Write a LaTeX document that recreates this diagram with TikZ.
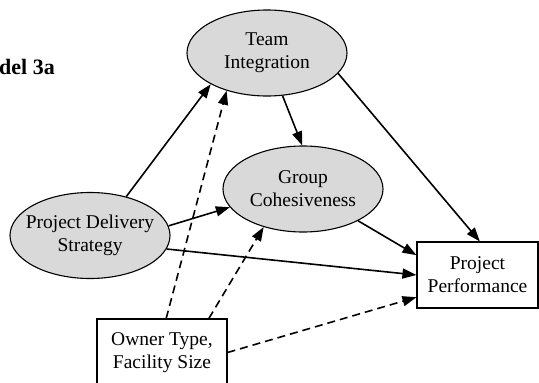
\documentclass[tikz,border=0pt]{standalone}
\usepackage{fontspec}
\setmainfont{Liberation Serif}
\usetikzlibrary{shapes.geometric,arrows.meta}
\definecolor{ovalfill}{RGB}{217,217,217}
\begin{document}
\begin{tikzpicture}[x=1pt,y=-1pt,
  oval/.style={ellipse, draw, line width=1.1pt, fill=ovalfill,
    minimum width=160pt, minimum height=86pt, inner sep=0pt},
  boxnode/.style={rectangle, draw, line width=1.1pt, fill=white, inner sep=0pt},
  lbl/.style={align=center, font=\fontsize{19.5}{23}\selectfont, inner sep=0pt},
  link/.style={line width=1.6pt, -{Triangle[length=14pt,width=10pt]}},
  dlink/.style={link, dash pattern=on 8pt off 5pt}]
\useasboundingbox (0,0) rectangle (539,383);

% title, partly cut off at the left edge
\node[font=\bfseries\fontsize{22}{26}\selectfont, anchor=base east, inner sep=0pt]
  (title) at (55,74) {Model 3a};

% constructs
\node[oval] (ti)  at (267,53)    {};
\node[lbl]  (tit) at (ti)        {Team\\Integration};
\node[oval] (gc)  at (303,189)   {};
\node[lbl]  (gct) at (gc)        {Group\\Cohesiveness};
\node[oval] (pds) at (90,235.5)  {};
\node[lbl]  (pdst) at (pds)      {Project Delivery\\Strategy};

\node[boxnode, minimum width=121pt, minimum height=66pt] (pp) at (477.5,275) {};
\node[lbl] (ppt) at (pp) {Project\\Performance};
\node[boxnode, minimum width=130pt, minimum height=67pt] (ot) at (162,352.5) {};
\node[lbl] (ott) at (ot) {Owner Type,\\Facility Size};

% direct paths
\draw[link] (pds.47)  -- (ti.209);
\draw[link] (pds.7.5) -- (gc.194);
\draw[link] (pds.350) -- (pp.west);
\draw[link] (ti.290)  -- (gc.91);
\draw[link] (ti.344)  -- (pp.86);
\draw[link] (gc.330)  -- (pp.162);

% control variables
\draw[dlink] (ot.83)   -- (ti.223);
\draw[dlink] (ot.36)   -- (gc.224);
\draw[dlink] (ot.east) -- (pp.200);
\end{tikzpicture}
\end{document}
